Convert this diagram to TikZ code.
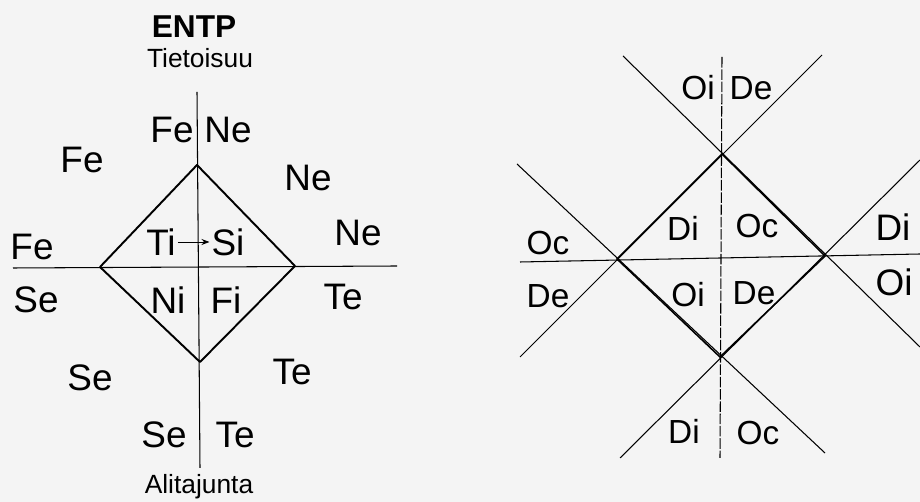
\documentclass[tikz,border=0pt]{standalone}
\usepackage{fontspec}
\setmainfont{Liberation Sans}
\usetikzlibrary{arrows.meta,positioning,calc}
\definecolor{paper}{RGB}{244,244,244}

\begin{document}
\begin{tikzpicture}[x=0.02cm, y=-0.02cm,
  lbl/.style={font=\fontsize{19}{21}\selectfont, inner sep=1pt},
  big/.style={font=\fontsize{21}{23}\selectfont, inner sep=1pt},
  note/.style={font=\fontsize{15}{17}\selectfont, inner sep=1pt},
  axis/.style={line width=0.6pt},
  edge/.style={line width=1.1pt, line join=round},
  cross/.style={line width=0.6pt},
  arr/.style={-{Stealth[length=1.6mm]}, line width=0.5pt}
]
  \fill[paper] (0,0) rectangle (920,502);
  \useasboundingbox (0,0) rectangle (920,502);

  % left: function axes
  \coordinate (vtop) at (197,92);
  \coordinate (vbot) at (200,468);
  \coordinate (hl) at (13,268);
  \coordinate (hr) at (397,266);
  \coordinate (ltop) at (197,165);
  \coordinate (lleft) at (100,267);
  \coordinate (lright) at (295,266);
  \coordinate (lbot) at (200,362);

  \draw[axis] (vtop) -- (vbot);
  \draw[axis] (hl) -- (hr);
  \draw[edge] (ltop) -- (lright) -- (lbot) -- (lleft) -- cycle;

  \node[note, font=\fontsize{18}{20}\selectfont\bfseries] (type) at (194,27) {ENTP};
  \node[note] (conscious) at (200,58) {Tietoisuu};
  \node[note] (unconscious) at (199,487) {Alitajunta};

  \node[big] (fe1) at (172,130) {Fe};
  \node[big] (ne1) at (228,130) {Ne};
  \node[big] (fe2) at (82,160) {Fe};
  \node[big] (ne2) at (308,178) {Ne};
  \node[big] (fe3) at (32,247) {Fe};
  \node[big] (ne3) at (358,233) {Ne};
  \node[big] (se1) at (36,300) {Se};
  \node[big] (te1) at (343,297) {Te};
  \node[big] (se2) at (90,378) {Se};
  \node[big] (te2) at (292,372) {Te};
  \node[big] (se3) at (164,435) {Se};
  \node[big] (te3) at (235,435) {Te};

  \node[big] (ti) at (161,242) {Ti};
  \node[big] (si) at (228,242) {Si};
  \node[big] (ni) at (168,300) {Ni};
  \node[big] (fi) at (226,300) {Fi};
  \draw[arr] (ti) -- (si);

  % right: orientation cross
  \coordinate (rvt) at (722,57);
  \coordinate (rvb) at (720,458);
  \coordinate (rhl) at (520,262);
  \coordinate (rhr) at (920,254);
  \coordinate (rtop) at (722,154);
  \coordinate (rleft) at (617,259);
  \coordinate (rright) at (825,256);
  \coordinate (rbot) at (720,357);
  \coordinate (a1) at (623,56);
  \coordinate (a2) at (920,347);
  \coordinate (b1) at (822,55);
  \coordinate (b2) at (520,357);
  \coordinate (c1) at (517,164);
  \coordinate (c2) at (825,453);
  \coordinate (d1) at (620,458);
  \coordinate (d2) at (920,160);

  \draw[cross, dash pattern=on 6pt off 1pt] (rvt) -- (rvb);
  \draw[cross] (rhl) -- (rhr);
  \draw[cross] (a1) -- (a2);
  \draw[cross] (b1) -- (b2);
  \draw[cross] (c1) -- (c2);
  \draw[cross] (d1) -- (d2);
  \draw[line width=0.9pt] (rtop) -- (rright) -- (rbot) -- (rleft) -- cycle;

  \node[lbl] (oi1) at (698,88) {Oi};
  \node[lbl] (de1) at (751,88) {De};
  \node[lbl] (oc1) at (548,243) {Oc};
  \node[lbl] (de2) at (548,296) {De};
  \node[lbl] (di1) at (683,228) {Di};
  \node[lbl] (oc2) at (757,226) {Oc};
  \node[lbl] (oi2) at (688,295) {Oi};
  \node[lbl] (de3) at (754,293) {De};
  \node[big] (di2) at (893,227) {Di};
  \node[big] (oi3) at (894,282) {Oi};
  \node[lbl] (di3) at (684,431) {Di};
  \node[lbl] (oc3) at (758,433) {Oc};
\end{tikzpicture}
\end{document}
